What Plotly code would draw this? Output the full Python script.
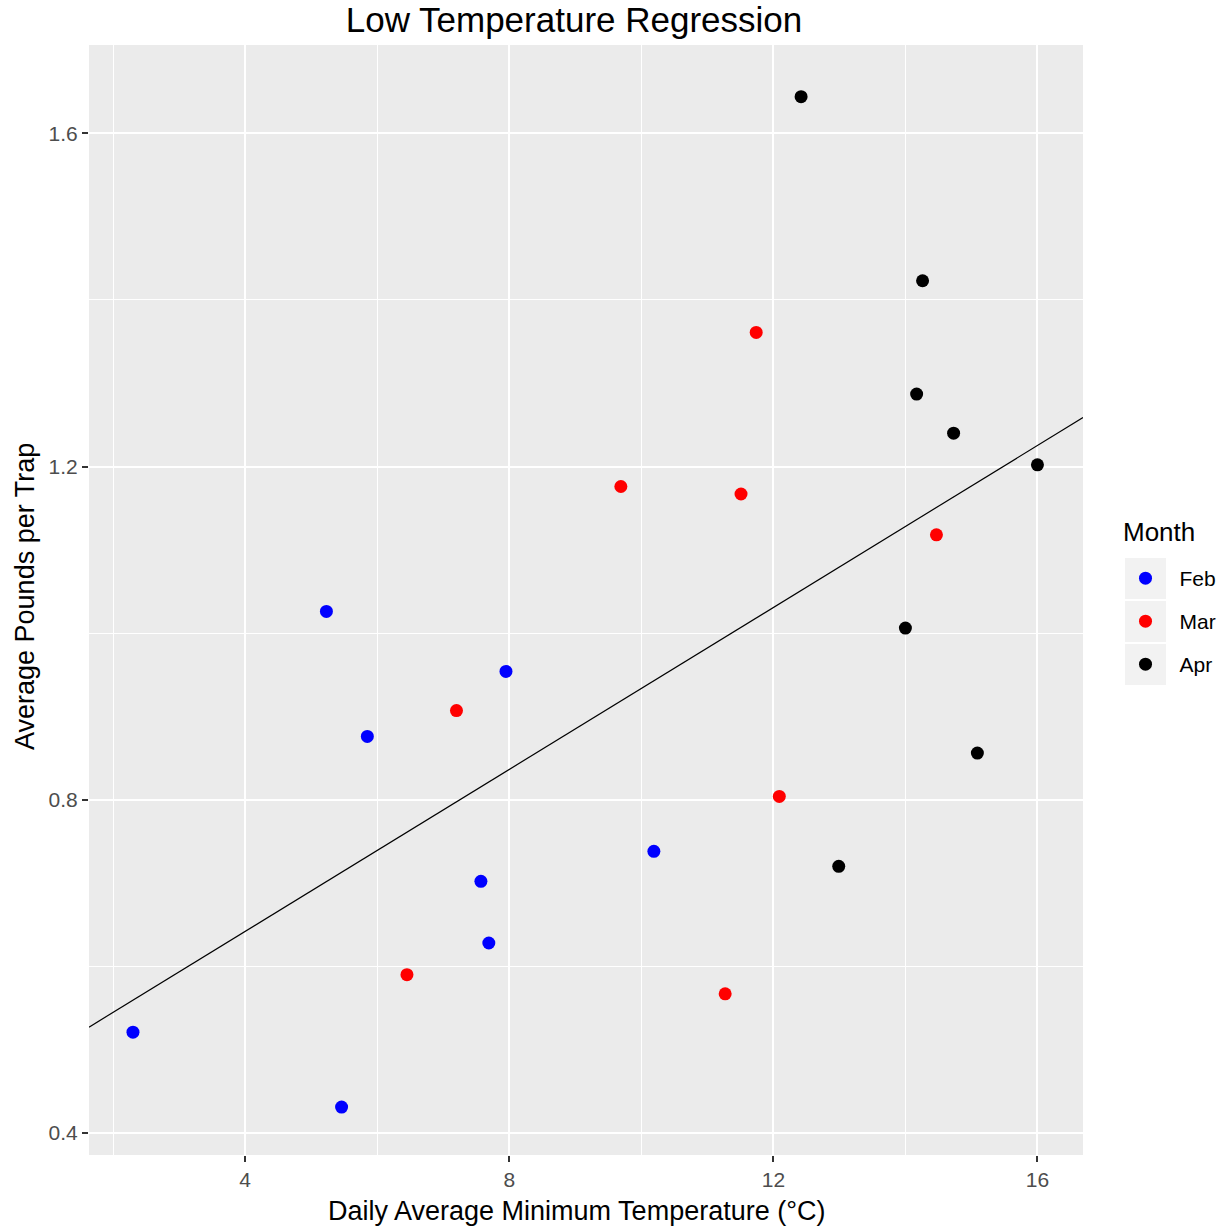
import plotly.graph_objects as go

# ---- data ----
months = ["Feb", "Mar", "Apr"]
feb_temp = [2.30, 5.23, 5.85, 5.46, 7.95, 7.57, 7.69, 10.19]
feb_lbs = [0.521, 1.026, 0.876, 0.431, 0.954, 0.702, 0.628, 0.738]
mar_temp = [6.45, 7.20, 9.69, 11.74, 11.51, 12.09, 11.27, 14.47]
mar_lbs = [0.590, 0.907, 1.176, 1.361, 1.167, 0.804, 0.567, 1.118]
apr_temp = [12.42, 14.26, 14.17, 14.73, 16.00, 14.00, 15.09, 12.99]
apr_lbs = [1.644, 1.423, 1.287, 1.240, 1.202, 1.006, 0.856, 0.720]
fit_intercept = 0.4476
fit_slope = 0.0486
x_ticks = [4, 8, 12, 16]
y_ticks = [0.4, 0.8, 1.2, 1.6]

# ---- layout constants ----
W, H = 1225, 1228
L, R, T, B = 89, 1083, 45, 1155
xr = [1.634, 16.69]
yr = [0.3735, 1.706]
pw, ph = R - L, B - T

def px(x):
    return (x - L) / pw

def py(y):
    return (B - y) / ph

colors = {"Feb": "#0000FF", "Mar": "#FF0000", "Apr": "#000000"}
series = {"Feb": (feb_temp, feb_lbs), "Mar": (mar_temp, mar_lbs), "Apr": (apr_temp, apr_lbs)}

fig = go.Figure()
for m in months:
    xs, ys = series[m]
    fig.add_trace(go.Scatter(
        x=xs, y=ys, mode="markers", name=m, legendgroup=m,
        marker=dict(color=colors[m], size=13, line=dict(width=0)),
    ))

fig.add_trace(go.Scatter(
    x=xr, y=[fit_intercept + fit_slope * v for v in xr], mode="lines",
    line=dict(color="black", width=1.2), showlegend=False, hoverinfo="skip",
))

font = "Liberation Sans, Arial, sans-serif"
axis_common = dict(
    showgrid=True, gridcolor="white", gridwidth=2.2,
    zeroline=False, showline=False,
    ticks="outside", ticklen=6, tickwidth=2, tickcolor="#333333",
    tickfont=dict(family=font, size=21, color="#4D4D4D"),
)
fig.update_xaxes(range=xr, tickvals=x_ticks, ticktext=[str(v) for v in x_ticks],
                 minor=dict(tickvals=[2, 6, 10, 14], showgrid=True, gridcolor="white", gridwidth=1.1, ticks=""),
                 **axis_common)
fig.update_yaxes(range=yr, tickvals=y_ticks, ticktext=[f"{v:.1f}" for v in y_ticks],
                 minor=dict(tickvals=[0.6, 1.0, 1.4], showgrid=True, gridcolor="white", gridwidth=1.1, ticks=""),
                 **axis_common)

# legend key backgrounds
shapes = []
for i in range(3):
    top = 558 + i * 43
    shapes.append(dict(type="rect", xref="paper", yref="paper",
                       x0=px(1125), x1=px(1166), y0=py(top + 41), y1=py(top),
                       fillcolor="#F2F2F2", line=dict(width=0), layer="below"))

annotations = [
    dict(text="Daily Average Minimum Temperature (°C)", xref="paper", yref="paper",
         x=px(576), y=py(1211), xanchor="center", yanchor="middle", showarrow=False,
         font=dict(family=font, size=27, color="black")),
    dict(text="Average Pounds per Trap", xref="paper", yref="paper",
         x=px(25), y=py(597), xanchor="center", yanchor="middle", showarrow=False, textangle=-90,
         font=dict(family=font, size=27, color="black")),
    dict(text="Month", xref="paper", yref="paper",
         x=px(1121), y=py(532), xanchor="left", yanchor="middle", showarrow=False,
         font=dict(family=font, size=26, color="black")),
]

fig.update_layout(
    width=W, height=H,
    margin=dict(l=L, r=W - R, t=T, b=H - B, pad=0, autoexpand=False),
    paper_bgcolor="white", plot_bgcolor="#EBEBEB",
    title=dict(text="Low Temperature Regression", x=574 / W, xanchor="center",
               y=1 - 20 / H, yanchor="middle", font=dict(family=font, size=35, color="black")),
    legend=dict(
        font=dict(family=font, size=21, color="black"),
        x=px(1111.5), xanchor="left", y=py(558), yanchor="top",
        bgcolor="rgba(0,0,0,0)", tracegroupgap=12.7, itemwidth=58,
    ),
    shapes=shapes, annotations=annotations,
    showlegend=True,
)

fig.write_html("out.html")
